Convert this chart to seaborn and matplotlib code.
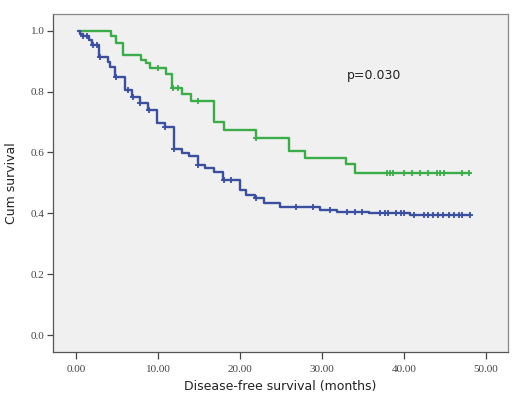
import numpy as np
import pandas as pd
import matplotlib
matplotlib.use("Agg")
import matplotlib.pyplot as plt
import seaborn as sns

# ---- data ----
green_time = [0.5, 4.3, 4.9, 5.8, 7.9, 8.5, 9.0, 11.0, 11.7, 12.9, 14.0, 16.9, 18.0, 22.0, 26.0, 28.0, 33.0, 34.0, 48.1]
green_surv = [1.0, 0.983, 0.96, 0.92, 0.905, 0.895, 0.878, 0.857, 0.81, 0.793, 0.768, 0.70, 0.675, 0.649, 0.604, 0.582, 0.561, 0.533, 0.533]
green_censor = [10.0, 11.8, 12.4, 14.9, 22.0, 37.9, 38.3, 38.7, 40.0, 41.0, 42.0, 43.0, 44.0, 44.4, 44.9, 47.1, 48.0]

blue_time = [0.2, 0.5, 0.8, 1.6, 1.9, 2.8, 3.9, 4.2, 4.8, 6.0, 6.8, 7.8, 8.8, 9.9, 10.9, 11.9, 12.9, 13.8, 14.9,
             15.7, 16.8, 17.9, 20.0, 20.8, 21.8, 22.9, 24.9, 29.8, 31.8, 35.7, 40.8, 48.1]
blue_surv = [1.0, 0.99, 0.983, 0.97, 0.954, 0.914, 0.897, 0.879, 0.846, 0.805, 0.783, 0.763, 0.738, 0.697, 0.684,
             0.61, 0.598, 0.588, 0.558, 0.548, 0.535, 0.508, 0.476, 0.461, 0.451, 0.433, 0.42, 0.411, 0.405, 0.40,
             0.394, 0.394]
blue_censor = [0.9, 1.4, 2.1, 2.6, 2.9, 4.9, 6.4, 6.9, 7.8, 8.9, 10.9, 11.9, 14.9, 18.0, 18.9, 22.0, 26.9, 28.9,
               31.0, 33.1, 34.0, 34.9, 37.1, 37.7, 38.1, 39.0, 39.6, 40.0, 41.2, 42.4, 43.0, 43.6, 44.2, 44.8,
               45.5, 46.1, 46.7, 47.1, 48.1]

x_ticks = [0, 10, 20, 30, 40, 50]
x_tick_labels = ["0.00", "10.00", "20.00", "30.00", "40.00", "50.00"]
y_ticks = [0.0, 0.2, 0.4, 0.6, 0.8, 1.0]
y_tick_labels = ["0.0", "0.2", "0.4", "0.6", "0.8", "1.0"]
p_text = "p=0.030"

GREEN = "#3aad48"
BLUE = "#3a4f9f"


def censor_levels(times, survs, cens):
    t = np.asarray(times)
    s = np.asarray(survs)
    idx = np.searchsorted(t, np.asarray(cens), side="right") - 1
    idx = np.clip(idx, 0, len(s) - 1)
    return s[idx]


sns.set_style("white")
fig = plt.figure(figsize=(5.19, 3.96), dpi=100)
ax = fig.add_axes([0.1021, 0.1111, 0.8767, 0.8548])
ax.set_facecolor("#f0f0f0")

curves = [(green_time, green_surv, green_censor, GREEN), (blue_time, blue_surv, blue_censor, BLUE)]
for t, s, c, col in curves:
    df = pd.DataFrame({"t": t, "s": s})
    sns.lineplot(data=df, x="t", y="s", drawstyle="steps-post", color=col, linewidth=1.7, ax=ax,
                 estimator=None, sort=False)
    cdf = pd.DataFrame({"t": c, "s": censor_levels(t, s, c)})
    sns.scatterplot(data=cdf, x="t", y="s", marker="+", s=16, linewidth=1.3, color=col, ax=ax, zorder=3)

ax.set_xlim(-2.8, 52.7)
ax.set_ylim(-0.055, 1.056)
ax.set_xticks(x_ticks)
ax.set_xticklabels(x_tick_labels, family="Liberation Serif", fontsize=8, color="#444444")
ax.set_yticks(y_ticks)
ax.set_yticklabels(y_tick_labels, family="Liberation Serif", fontsize=8, color="#444444")
ax.tick_params(axis="both", bottom=True, left=True, direction="out", length=4, width=0.9, color="#444444", pad=2)
ax.tick_params(axis="x", length=5, pad=4)

for sp in ax.spines.values():
    sp.set_color("#888888")
    sp.set_linewidth(0.9)
ax.spines["left"].set_color("#555555")
ax.spines["bottom"].set_color("#555555")

ax.set_xlabel("Disease-free survival (months)", fontsize=9, family="DejaVu Sans", color="#222222", labelpad=5)
ax.set_ylabel("Cum survival", fontsize=9, family="DejaVu Sans", color="#222222", labelpad=9)
ax.text(33.05, 0.853, p_text, fontsize=9, family="DejaVu Sans", color="#222222", va="center", ha="left")

fig.savefig("out.png", dpi=100)
